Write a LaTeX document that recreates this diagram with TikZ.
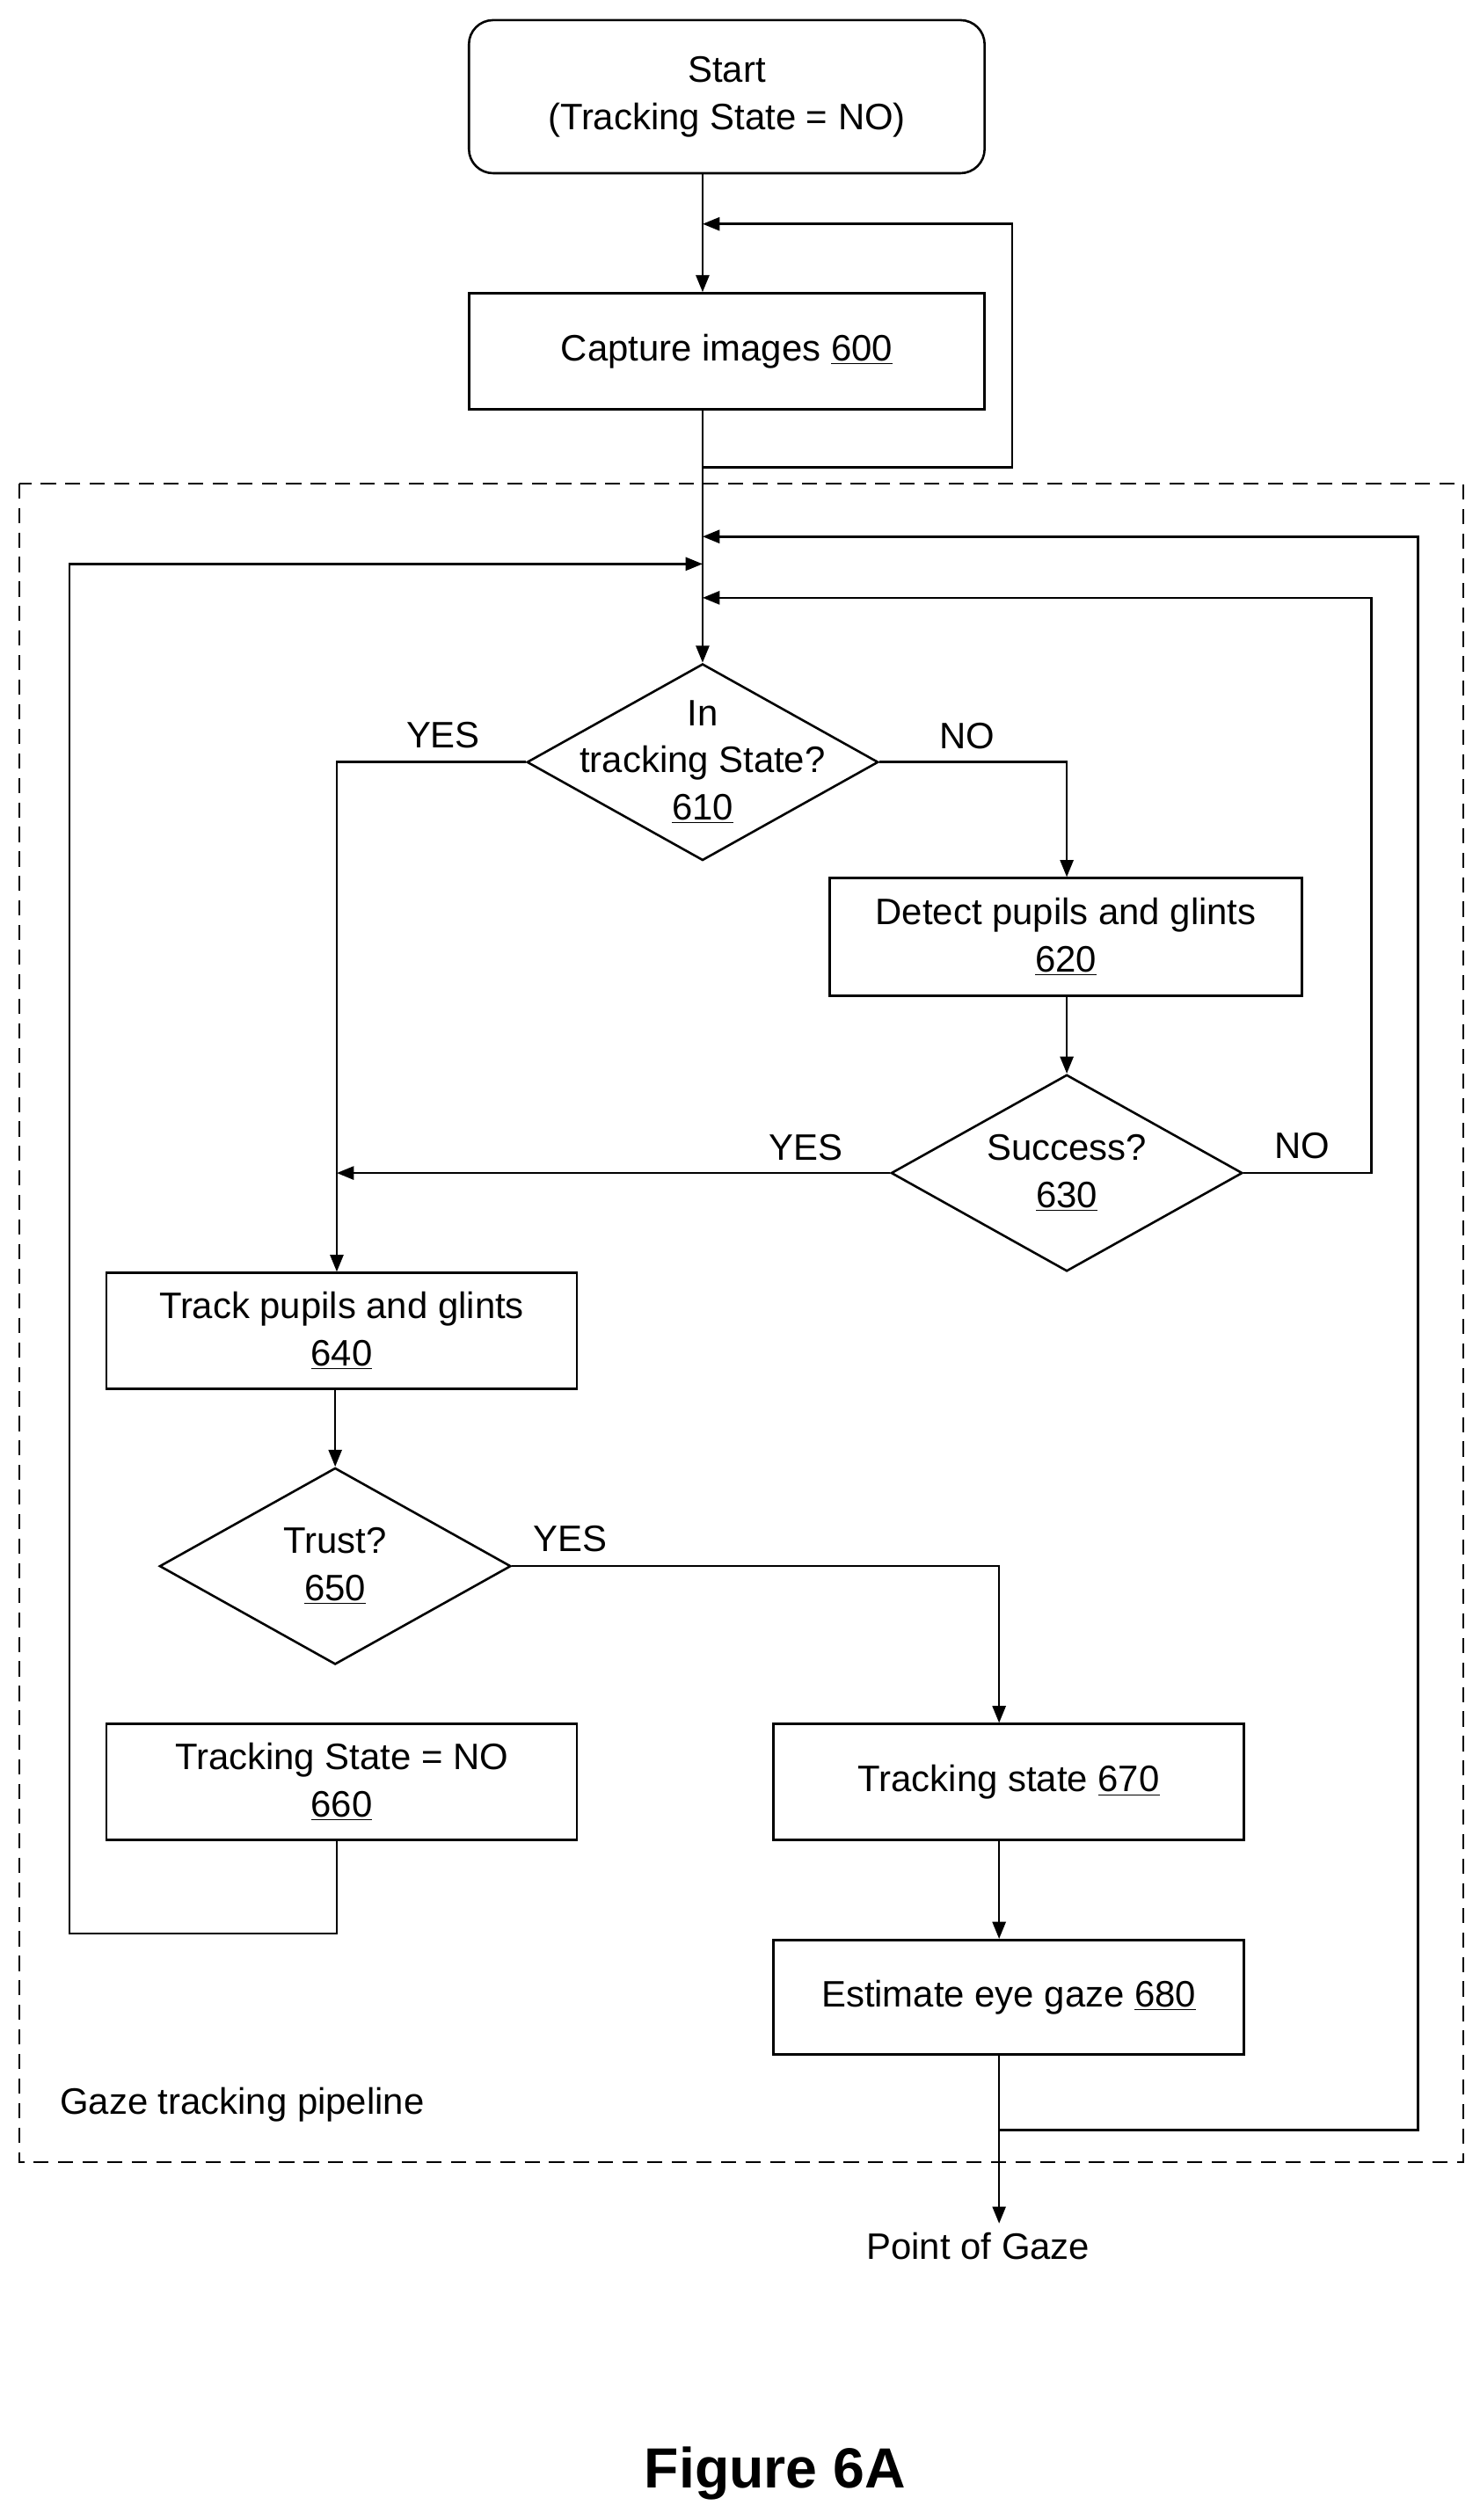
\documentclass[tikz,border=0pt]{standalone}
\usepackage{fontspec}
\setmainfont{Liberation Sans}
\usetikzlibrary{shapes.geometric,arrows.meta}
\begin{document}
\begin{tikzpicture}[x=0.03cm,y=-0.03cm,
  every node/.style={font=\fontsize{19.5}{25}\selectfont, align=center},
  box/.style={draw, line width=1.2pt, inner sep=0pt},
  dia/.style={draw, diamond, line width=1.2pt, inner sep=0pt, minimum width=6.54cm, minimum height=3.66cm},
  ln/.style={line width=1.2pt},
  ar/.style={ln, -{Triangle[length=9pt,width=7pt]}},
  lab/.style={inner sep=0pt}]
\useasboundingbox (0,0) rectangle (918,1564);
\node[box, rounded corners=0.45cm, minimum width=9.6cm, minimum height=2.85cm] (start) at (451,60) {Start\\(Tracking State = NO)};
\node[box, minimum width=9.6cm, minimum height=2.16cm] (cap) at (451,218) {Capture images \underline{600}};
\draw[dashed, line width=1pt, dash pattern=on 8pt off 5pt] (12,300) rectangle (908,1342);
\node[dia] (d610) at (436,473) {};
\node[lab] (t610) at (436,473) {In\\tracking State?\\\underline{610}};
\node[box, minimum width=8.79cm, minimum height=2.19cm] (b620) at (661.5,581.5) {Detect pupils and glints\\\underline{620}};
\node[dia] (d630) at (662,728) {};
\node[lab] (t630) at (662,728) {Success?\\\underline{630}};
\node[box, minimum width=8.76cm, minimum height=2.16cm] (b640) at (212,826) {Track pupils and glints\\\underline{640}};
\node[dia] (d650) at (208,972) {};
\node[lab] (t650) at (208,972) {Trust?\\\underline{650}};
\node[box, minimum width=8.76cm, minimum height=2.16cm] (b660) at (212,1106) {Tracking State = NO\\\underline{660}};
\node[box, minimum width=8.76cm, minimum height=2.16cm] (b670) at (626,1106) {Tracking state \underline{670}};
\node[box, minimum width=8.76cm, minimum height=2.13cm] (b680) at (626,1239.5) {Estimate eye gaze \underline{680}};
\node[lab, anchor=west] (pipe) at (37,1306) {Gaze tracking pipeline};
\node[lab] (pog) at (607,1394) {Point of Gaze};
\node[lab, font=\bfseries\fontsize{30}{36}\selectfont] (fig) at (481,1535) {Figure 6A};
% yes/no labels
\node[lab] (y1) at (275,456) {YES};
\node[lab] (n1) at (600,457) {NO};
\node[lab] (y2) at (500,712) {YES};
\node[lab] (n2) at (808,711) {NO};
\node[lab] (y3) at (354,955) {YES};
% coordinates
\coordinate (j1) at (436,139);
\coordinate (j2) at (436,333);
\coordinate (j3) at (436,350);
\coordinate (j4) at (436,371);
\coordinate (j5) at (209,728);
\coordinate (pe) at (620,1380);
% connectors
\draw[ar] (start.south -| j1) -- (cap.north -| j1);
\draw[ar] (cap.south -| j1) |- (628,290) |- (j1);
\draw[ar] (cap.south -| j1) -- (d610.north);
\draw[ar] (b680.south -| pe) |- (880,1322) |- (j2);
\draw[ar] (b660.south -| 209,0) |- (43,1200) |- (j3);
\draw[ar] (d630.east) -- (851,728) |- (j4);
\draw[ar] (d610.west) -| (b640.north -| j5);
\draw[ar] (d610.east) -| (b620.north -| d630.north);
\draw[ar] (b620.south -| d630.north) -- (d630.north);
\draw[ar] (d630.west) -- (j5);
\draw[ar] (b640.south -| d650.north) -- (d650.north);
\draw[ar] (d650.east) -| (b670.north -| pe);
\draw[ar] (b670.south -| pe) -- (b680.north -| pe);
\draw[ar] (b680.south -| pe) -- (pe);
\end{tikzpicture}
\end{document}
